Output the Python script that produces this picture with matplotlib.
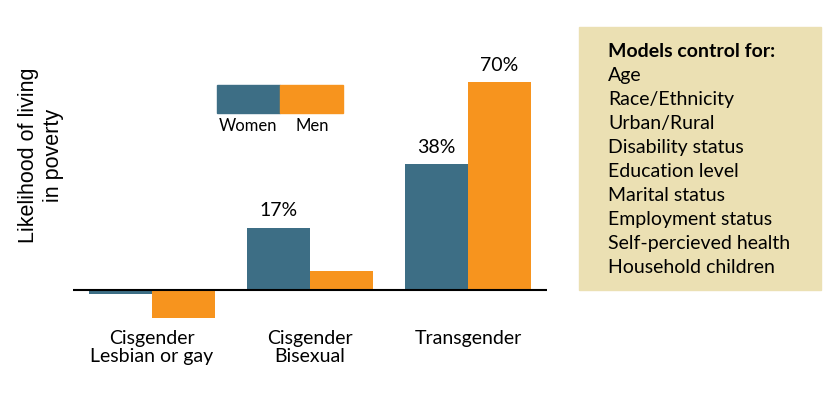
import numpy as np
import matplotlib.pyplot as plt
from matplotlib.patches import Rectangle

# data (bar heights as drawn, labels as printed)
categories = ['Cisgender\nLesbian or gay', 'Cisgender\nBisexual', 'Transgender']
women = [-1.3, 20.9, 42.4]
men = [-9.4, 6.4, 70.0]
women_labels = ['', '17%', '38%']
men_labels = ['', '', '70%']
controls = ['Age', 'Race/Ethnicity', 'Urban/Rural', 'Disability status', 'Education level',
            'Marital status', 'Employment status', 'Self-percieved health', 'Household children']

teal = '#3d6e85'
orange = '#f7941e'
W, H = 840, 406

plt.rcParams['font.family'] = ['Lato', 'DejaVu Sans']

fig = plt.figure(figsize=(8.4, 4.06), dpi=100)
ax = fig.add_axes([73 / W, 1 - 330 / H, 474 / W, 270 / H])

x = np.arange(len(categories))
bw = 0.4
ax.bar(x - bw / 2, women, bw, color=teal)
ax.bar(x + bw / 2, men, bw, color=orange)
ax.axhline(0, color='black', lw=1.5)
ax.set_xlim(-0.5, 2.5)
ax.set_ylim(-13.13, 77.78)

for i in range(len(categories)):
    if women_labels[i]:
        ax.annotate(women_labels[i], (x[i] - bw / 2, women[i]), xytext=(0, 9), textcoords='offset points',
                    ha='center', va='baseline', fontsize=14)
    if men_labels[i]:
        ax.annotate(men_labels[i], (x[i] + bw / 2, men[i]), xytext=(0, 9), textcoords='offset points',
                    ha='center', va='baseline', fontsize=14)

ax.set_xticks(x)
ax.set_xticklabels(categories, fontsize=14, linespacing=1.05)
ax.tick_params(axis='x', length=0, pad=0)
ax.set_yticks([])
for s in ax.spines.values():
    s.set_visible(False)

# legend swatches
fig.patches.append(Rectangle((217 / W, 1 - 114 / H), 63 / W, 28 / H, color=teal, transform=fig.transFigure))
fig.patches.append(Rectangle((280 / W, 1 - 114 / H), 63 / W, 28 / H, color=orange, transform=fig.transFigure))
fig.text(248 / W, 1 - 126 / H, 'Women', ha='center', va='center', fontsize=12)
fig.text(312 / W, 1 - 126 / H, 'Men', ha='center', va='center', fontsize=12)

# y label
fig.text(41 / W, 1 - 155 / H, 'Likelihood of living\nin poverty', rotation=90, ha='center', va='center',
         fontsize=15.5, family=['Liberation Sans', 'DejaVu Sans'], linespacing=1.3, multialignment='center')

# control box
fig.patches.append(Rectangle((579 / W, 1 - 291 / H), 242 / W, 263 / H, color='#ebe0b3', transform=fig.transFigure))
fig.text(608 / W, 1 - 57 / H, 'Models control for:', fontsize=14, fontweight='bold', va='baseline')
for i, c in enumerate(controls):
    fig.text(608 / W, 1 - (81 + 24 * i) / H, c, fontsize=14, va='baseline')

fig.savefig('out.png', dpi=100)
